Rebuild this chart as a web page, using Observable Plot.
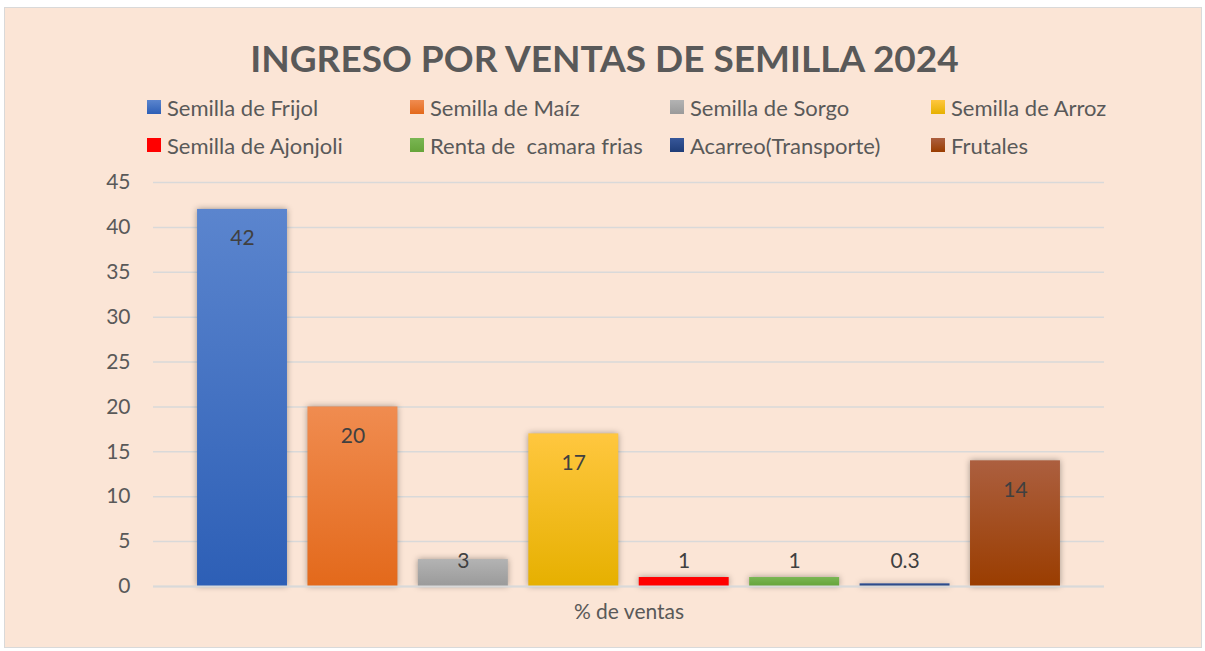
<!DOCTYPE html>
<html><head><meta charset="utf-8">
<script src="https://cdn.jsdelivr.net/npm/d3@7"></script>
<script src="https://cdn.jsdelivr.net/npm/@observablehq/plot@0.6"></script>
<style>
html,body{margin:0;padding:0;background:#fff;}
body{position:relative;width:1205px;height:651px;overflow:hidden;font-family:Lato,"Open Sans",sans-serif;}
#frame{position:absolute;left:4px;top:7px;width:1198px;height:641px;background:#FBE5D6;border:1px solid #D9D9D9;box-sizing:border-box;}
#title{position:absolute;left:0;width:1209px;top:36px;line-height:44px;text-align:center;font-weight:bold;font-size:37px;color:#595959;}
.leg{position:absolute;height:26px;display:flex;align-items:center;font-size:22px;color:#595959;white-space:pre;}
.sw{width:14px;height:14px;margin-right:6px;flex:none;}
#chart{position:absolute;left:0;top:0;}
#chart g[aria-label="bar"] rect{filter:drop-shadow(0px 0px 3px rgba(0,0,0,0.35));}
</style>
</head><body>
<div id="frame"></div>
<svg width="0" height="0" style="position:absolute"><defs id="grads"></defs></svg>
<div id="title"></div>
<div id="legend"></div>
<div id="chart"></div>
<script>
const titleText = "INGRESO POR VENTAS DE SEMILLA 2024";
const categories = ["Semilla de Frijol","Semilla de Maíz","Semilla de Sorgo","Semilla de Arroz","Semilla de Ajonjoli","Renta de  camara frias","Acarreo(Transporte)","Frutales"];
const values = [42, 20, 3, 17, 1, 1, 0.3, 14];
const valueLabels = ["42","20","3","17","1","1","0.3","14"];
const colorTop = ["#5B85CE","#F08C50","#B3B3B3","#FFC73F","#FF0000","#7AB653","#37579A","#AC5F3F"];
const colorBottom = ["#2D5FB6","#E3691B","#9A9A9A","#E6B000","#FF0000","#66A43A","#1F3D78","#9A3D00"];
const yTicks = [0,5,10,15,20,25,30,35,40,45];
const xLabel = "% de ventas";

document.getElementById("title").textContent = titleText;

// gradients
const defs = d3.select("#grads");
categories.forEach((c,i)=>{
  const g = defs.append("linearGradient").attr("id","g"+i).attr("x1",0).attr("y1",0).attr("x2",0).attr("y2",1);
  g.append("stop").attr("offset","0%").attr("stop-color",colorTop[i]);
  g.append("stop").attr("offset","100%").attr("stop-color",colorBottom[i]);
});

// legend
const legX = [147,410,670,931];
const legY = [107,145];
const legend = document.getElementById("legend");
categories.forEach((c,i)=>{
  const d = document.createElement("div");
  d.className="leg";
  d.style.left = legX[i%4]+"px";
  d.style.top = (legY[Math.floor(i/4)]-13)+"px";
  const s = document.createElement("div");
  s.className="sw";
  s.style.background = `linear-gradient(${colorTop[i]}, ${colorBottom[i]})`;
  const t = document.createElement("span");
  t.textContent = c;
  d.appendChild(s); d.appendChild(t);
  legend.appendChild(d);
});

const data = categories.map((c,i)=>({name:c, value:values[i], label:valueLabels[i], fill:`url(#g${i})`}));

const chart = Plot.plot({
  width:1205, height:651,
  marginTop:182, marginBottom:65, marginLeft:153, marginRight:101,
  style:{background:"transparent", fontFamily:"Lato, 'Open Sans', sans-serif", fontSize:"21px", color:"#595959", overflow:"visible"},
  x:{domain:categories, range:[186.8,1070.2], paddingInner:0.1855, paddingOuter:0.09275, round:false, axis:null},
  y:{domain:[0,45], axis:null},
  color:{type:"identity"},
  marks:[
    Plot.gridY(yTicks,{stroke:"#D9D9D9", strokeOpacity:1, strokeWidth:1.5}),
    Plot.axisY(yTicks,{tickSize:0, tickPadding:23, fontSize:21, fill:"#595959", label:null}),
    Plot.barY(data,{x:"name", y:"value", fill:"fill"}),
    Plot.ruleY([0],{stroke:"#D9D9D9", strokeWidth:2}),
    Plot.text(data,{x:"name", y:d=>Math.max(d.value,6), dy:29, text:"label", fill:"#404040", fontSize:21}),
    Plot.text([xLabel],{frameAnchor:"bottom", dy:32, fill:"#595959", fontSize:21})
  ]
});
document.getElementById("chart").appendChild(chart);
</script>
</body></html>
